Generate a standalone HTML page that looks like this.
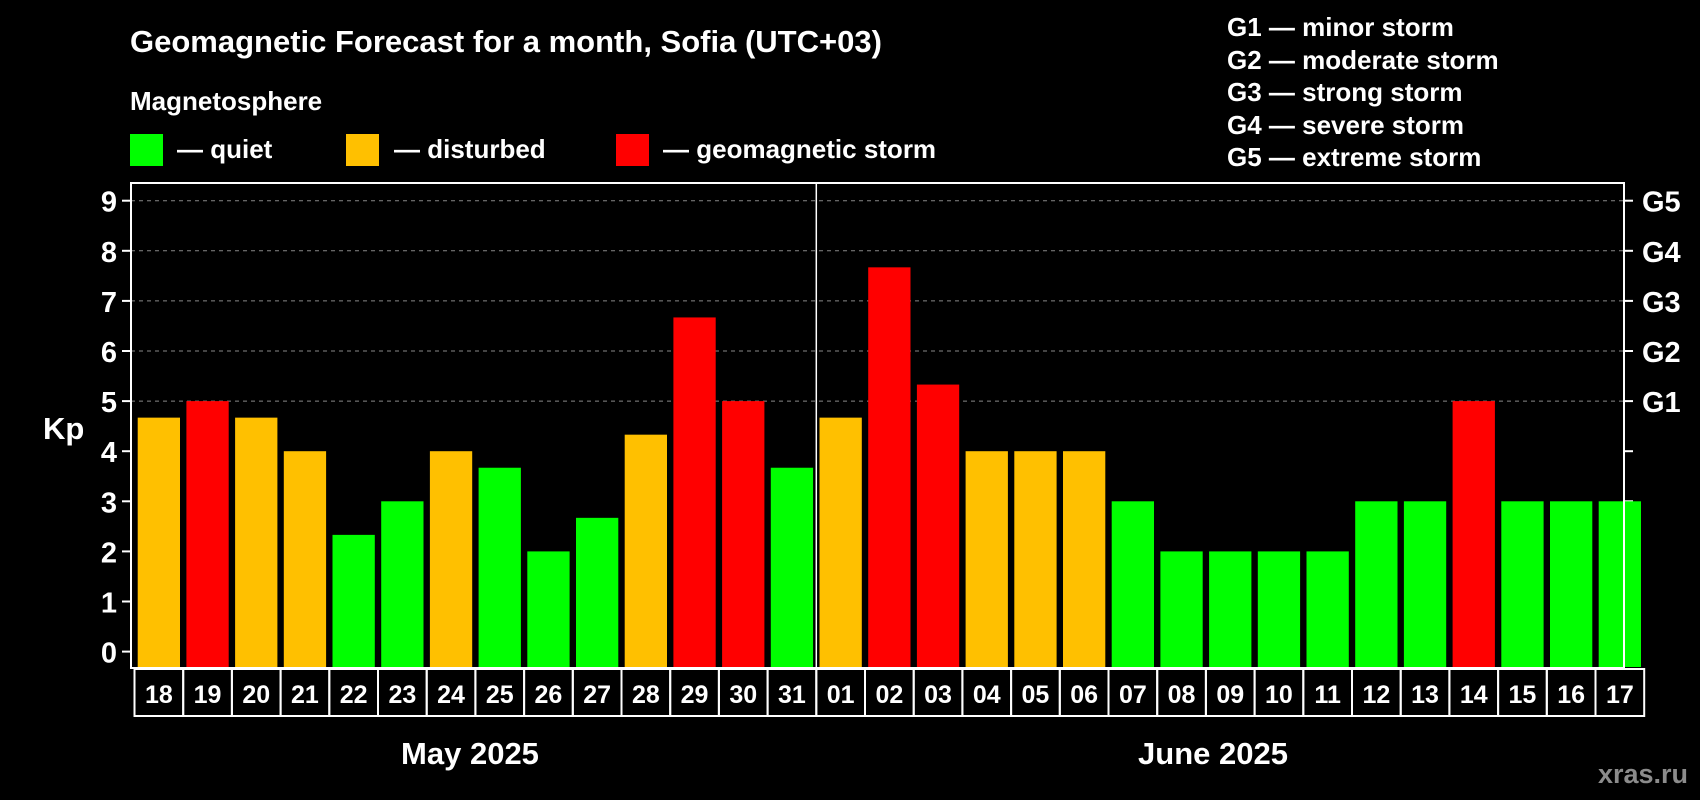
<!DOCTYPE html>
<html><head><meta charset="utf-8"><style>
body{margin:0;background:#000;}
svg{display:block;font-family:"Liberation Sans",Arial,sans-serif;font-weight:bold;}
</style></head><body>
<svg id="c" width="1700" height="800" viewBox="0 0 1700 800">
<rect width="1700" height="800" fill="#000"/>
<text x="130" y="52" fill="#fff" font-size="31">Geomagnetic Forecast for a month, Sofia (UTC+03)</text>
<text x="130" y="110" fill="#fff" font-size="26">Magnetosphere</text>
<g><rect x="130" y="134" width="33" height="32" fill="#00ff00"/><text x="177" y="158" fill="#fff" font-size="26">— quiet</text></g>
<g><rect x="346" y="134" width="33" height="32" fill="#ffc000"/><text x="394" y="158" fill="#fff" font-size="26">— disturbed</text></g>
<g><rect x="616" y="134" width="33" height="32" fill="#ff0000"/><text x="663" y="158" fill="#fff" font-size="26">— geomagnetic storm</text></g>
<g fill="#fff" font-size="26">
<text x="1227" y="36">G1 — minor storm</text>
<text x="1227" y="69">G2 — moderate storm</text>
<text x="1227" y="101">G3 — strong storm</text>
<text x="1227" y="134">G4 — severe storm</text>
<text x="1227" y="166">G5 — extreme storm</text>
</g>
<text x="43" y="439" fill="#fff" font-size="31">Kp</text>
<text x="470" y="764" fill="#fff" font-size="31" text-anchor="middle">May 2025</text>
<text x="1213" y="764" fill="#fff" font-size="31" text-anchor="middle">June 2025</text>
<text x="1688" y="783" fill="#8c8c8c" font-size="27" text-anchor="end">xras.ru</text>
<g id="plot"></g>
</svg>
<script>
const days=["18","19","20","21","22","23","24","25","26","27","28","29","30","31","01","02","03","04","05","06","07","08","09","10","11","12","13","14","15","16","17"];
const kp=[4.67,5,4.67,4,2.33,3,4,3.67,2,2.67,4.33,6.67,5,3.67,4.67,7.67,5.33,4,4,4,3,2,2,2,2,3,3,5,3,3,3];
const yTicks=[0,1,2,3,4,5,6,7,8,9];
const gLabels=["G1","G2","G3","G4","G5"];
const gLevels=[5,6,7,8,9];
const NS="http://www.w3.org/2000/svg";
const L=131,R=1624,T=183,B=668;
const y=v=>651.6-v*50.1;
const x=i=>137.7+i*48.7;
const BW=42.3;
const g=document.getElementById('plot');
function mk(t,a){const e=document.createElementNS(NS,t);for(const k in a)e.setAttribute(k,a[k]);g.appendChild(e);return e;}
function col(v){return v>=5?"#ff0000":v>=4?"#ffc000":"#00ff00";}
yTicks.forEach(v=>{
 if(v>=5){const l=mk('line',{x1:L,x2:R,y1:y(v),y2:y(v),stroke:'#888','stroke-dasharray':'4,4','stroke-width':1});}
 const t1=mk('line',{x1:L-9,x2:L,y1:y(v),y2:y(v),stroke:'#fff','stroke-width':2});
 
 const t2=mk('line',{x1:R,x2:R+9,y1:y(v),y2:y(v),stroke:'#fff','stroke-width':2});
 
 const tx=mk('text',{x:L-14,y:y(v)+11,fill:'#fff','font-size':29,'text-anchor':'end'});tx.textContent=v;
 
});
gLabels.forEach((s,i)=>{const t=mk('text',{x:R+18,y:y(gLevels[i])+11,fill:'#fff','font-size':29});t.textContent=s;
 });
kp.forEach((v,i)=>{
 const r=mk('rect',{x:x(i),y:y(v),width:BW,height:B-1-y(v),fill:col(v)});
 
 const b=mk('rect',{x:x(i)-3.2,y:B+1,width:48.7,height:47,fill:'none',stroke:'#fff','stroke-width':2});
 
 const t=mk('text',{x:x(i)+BW/2,y:B+35,fill:'#fff','font-size':25,'text-anchor':'middle'});t.textContent=days[i];
 
});
const sep=days.indexOf("01");
const ml=mk('line',{x1:x(sep)-3.2,x2:x(sep)-3.2,y1:T,y2:B,stroke:'#fff','stroke-width':1.5});

const fr=mk('rect',{x:L,y:T,width:R-L,height:B-T,fill:'none',stroke:'#fff','stroke-width':2});

</script>
</body></html>
